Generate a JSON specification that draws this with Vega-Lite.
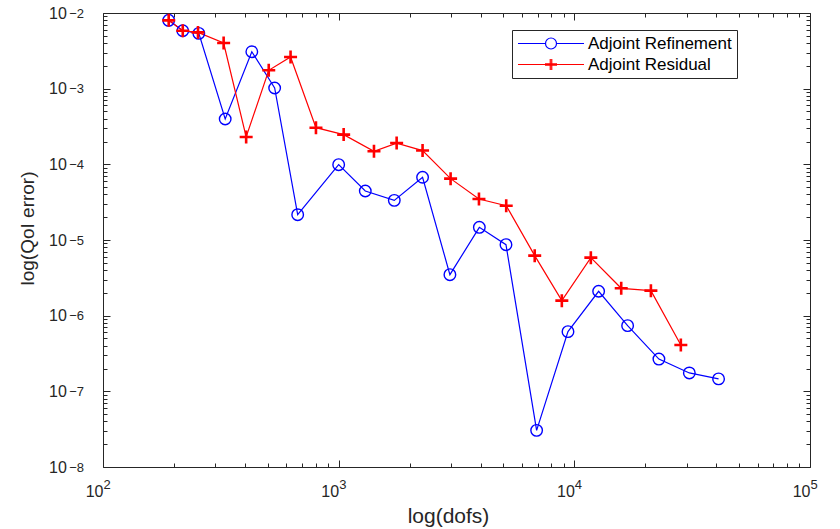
{
  "$schema": "https://vega.github.io/schema/vega-lite/v6.json",
  "width": 707,
  "height": 454,
  "autosize": "none",
  "padding": {"left": 103, "top": 13, "right": 30, "bottom": 62},
  "background": "white",
  "config": {
    "font": "Liberation Sans",
    "view": {"stroke": "#262626", "strokeWidth": 1},
    "axis": {"grid": false, "domain": false, "ticks": false, "gridColor": "#262626", "gridOpacity": 1, "gridWidth": 1, "labelColor": "#262626", "titleColor": "#262626", "labelFont": "Liberation Sans", "titleFont": "Liberation Sans", "titleFontWeight": "normal", "labelFlush": false, "labelOverlap": false, "labelBound": false}
  },
  "data": {"values": [
    {"series": "Adjoint Refinement", "dofs": 190, "err": 0.0080},
    {"series": "Adjoint Refinement", "dofs": 218, "err": 0.00583},
    {"series": "Adjoint Refinement", "dofs": 255, "err": 0.00538},
    {"series": "Adjoint Refinement", "dofs": 330, "err": 0.000397},
    {"series": "Adjoint Refinement", "dofs": 428, "err": 0.00308},
    {"series": "Adjoint Refinement", "dofs": 535, "err": 0.00102},
    {"series": "Adjoint Refinement", "dofs": 670, "err": 0.0000216},
    {"series": "Adjoint Refinement", "dofs": 1000, "err": 0.000099},
    {"series": "Adjoint Refinement", "dofs": 1297, "err": 0.0000444},
    {"series": "Adjoint Refinement", "dofs": 1722, "err": 0.0000334},
    {"series": "Adjoint Refinement", "dofs": 2270, "err": 0.0000674},
    {"series": "Adjoint Refinement", "dofs": 2965, "err": 0.00000348},
    {"series": "Adjoint Refinement", "dofs": 3953, "err": 0.0000147},
    {"series": "Adjoint Refinement", "dofs": 5128, "err": 0.00000867},
    {"series": "Adjoint Refinement", "dofs": 6918, "err": 3.05e-8},
    {"series": "Adjoint Refinement", "dofs": 9398, "err": 6.15e-7},
    {"series": "Adjoint Refinement", "dofs": 12680, "err": 0.0000021},
    {"series": "Adjoint Refinement", "dofs": 16830, "err": 7.38e-7},
    {"series": "Adjoint Refinement", "dofs": 22850, "err": 2.67e-7},
    {"series": "Adjoint Refinement", "dofs": 30760, "err": 1.75e-7},
    {"series": "Adjoint Refinement", "dofs": 40930, "err": 1.46e-7},
    {"series": "Adjoint Residual", "dofs": 190, "err": 0.0080},
    {"series": "Adjoint Residual", "dofs": 218, "err": 0.00583},
    {"series": "Adjoint Residual", "dofs": 253, "err": 0.00554},
    {"series": "Adjoint Residual", "dofs": 325, "err": 0.00401},
    {"series": "Adjoint Residual", "dofs": 405, "err": 0.00023},
    {"series": "Adjoint Residual", "dofs": 505, "err": 0.00175},
    {"series": "Adjoint Residual", "dofs": 625, "err": 0.00262},
    {"series": "Adjoint Residual", "dofs": 801, "err": 0.000305},
    {"series": "Adjoint Residual", "dofs": 1050, "err": 0.000247},
    {"series": "Adjoint Residual", "dofs": 1412, "err": 0.000149},
    {"series": "Adjoint Residual", "dofs": 1762, "err": 0.000191},
    {"series": "Adjoint Residual", "dofs": 2270, "err": 0.000152},
    {"series": "Adjoint Residual", "dofs": 2985, "err": 0.0000647},
    {"series": "Adjoint Residual", "dofs": 3938, "err": 0.0000348},
    {"series": "Adjoint Residual", "dofs": 5140, "err": 0.0000284},
    {"series": "Adjoint Residual", "dofs": 6790, "err": 0.00000621},
    {"series": "Adjoint Residual", "dofs": 8850, "err": 0.00000158},
    {"series": "Adjoint Residual", "dofs": 11750, "err": 0.00000584},
    {"series": "Adjoint Residual", "dofs": 15810, "err": 0.0000023},
    {"series": "Adjoint Residual", "dofs": 21130, "err": 0.00000214},
    {"series": "Adjoint Residual", "dofs": 28310, "err": 4.1e-7}
  ]},
  "layer": [
    {
      "transform": [{"filter": "datum.series === 'Adjoint Refinement'"}],
      "mark": {"type": "line", "strokeWidth": 1.2},
      "encoding": {
        "x": {"field": "dofs", "type": "quantitative", "scale": {"type": "log", "domain": [100, 100000], "nice": false},
          "axis": {"orient": "bottom", "values": [100, 1000, 10000, 100000], "labelExpr": "'10'",
            "grid": true, "gridDash": [7, 440, 7, 5000],
            "labelPadding": 24.4, "labelAlign": "right", "labelBaseline": "middle", "labelDx": -1, "labelFontSize": 16,
            "title": "log(dofs)", "titleFontSize": 21, "titleX": 345, "titleY": 49, "titleBaseline": "middle", "titleAlign": "center"}},
        "y": {"field": "err", "type": "quantitative", "scale": {"type": "log", "domain": [1e-8, 0.01], "nice": false},
          "axis": {"orient": "left", "values": [1e-8, 1e-7, 1e-6, 1e-5, 1e-4, 1e-3, 1e-2], "labelExpr": "'10'",
            "grid": true, "gridDash": [7, 693, 7, 5000],
            "labelPadding": 36.7, "labelAlign": "right", "labelBaseline": "middle", "labelDy": 4.5, "labelFontSize": 16,
            "title": "log(QoI error)", "titleFontSize": 19, "titleX": -76, "titleY": 215, "titleAngle": -90, "titleBaseline": "middle", "titleAlign": "center"}},
        "color": {"field": "series", "type": "nominal",
          "scale": {"domain": ["Adjoint Refinement", "Adjoint Residual"], "range": ["#0000ff", "#ff0000"]},
          "legend": {"title": null, "orient": "none", "legendX": 409, "legendY": 17,
            "padding": 5, "strokeColor": "#262626", "fillColor": "white", "cornerRadius": 0,
            "labelFontSize": 17, "labelFont": "Liberation Sans", "labelColor": "#000000", "labelLimit": 500,
            "symbolSize": 100, "symbolStrokeWidth": 1.2, "symbolOffset": 25.5, "labelOffset": 28.5, "rowPadding": 3,
            "encode": {
              "symbols": {"update": {
                "shape": {"signal": "datum.value === 'Adjoint Refinement' ? 'M-6.6,0L-1.1,0M1.1,0L6.6,0M-1.1,0A1.1,1.1 0 1,0 1.1,0A1.1,1.1 0 1,0 -1.1,0' : 'M-6.6,0L6.6,0M-1.2,-0.15L1.2,-0.15M-1.2,0.15L1.2,0.15M-0.15,-1.1L-0.15,1.1M0.15,-1.1L0.15,1.1'"},
                "fill": {"value": "transparent"},
                "stroke": {"signal": "datum.value === 'Adjoint Refinement' ? '#0000ff' : '#ff0000'"},
                "opacity": {"value": 1},
                "strokeWidth": {"value": 1.2}}}}}}
      }
    },
    {
      "transform": [{"filter": "datum.series === 'Adjoint Residual'"}],
      "mark": {"type": "line", "strokeWidth": 1.2},
      "encoding": {
        "x": {"field": "dofs", "type": "quantitative", "scale": {"type": "log", "domain": [100, 100000], "nice": false},
          "axis": {"orient": "bottom", "values": [200, 300, 400, 500, 600, 700, 800, 900, 2000, 3000, 4000, 5000, 6000, 7000, 8000, 9000, 20000, 30000, 40000, 50000, 60000, 70000, 80000, 90000],
            "labels": false, "grid": true, "gridDash": [4, 446, 4, 5000], "title": null}},
        "y": {"field": "err", "type": "quantitative", "scale": {"type": "log", "domain": [1e-8, 0.01], "nice": false},
          "axis": {"orient": "left", "values": [2e-8, 3e-8, 4e-8, 5e-8, 6e-8, 7e-8, 8e-8, 9e-8, 2e-7, 3e-7, 4e-7, 5e-7, 6e-7, 7e-7, 8e-7, 9e-7, 2e-6, 3e-6, 4e-6, 5e-6, 6e-6, 7e-6, 8e-6, 9e-6, 2e-5, 3e-5, 4e-5, 5e-5, 6e-5, 7e-5, 8e-5, 9e-5, 2e-4, 3e-4, 4e-4, 5e-4, 6e-4, 7e-4, 8e-4, 9e-4, 2e-3, 3e-3, 4e-3, 5e-3, 6e-3, 7e-3, 8e-3, 9e-3],
            "labels": false, "grid": true, "gridDash": [4, 699, 4, 5000], "title": null}},
        "color": {"field": "series", "type": "nominal", "scale": {"domain": ["Adjoint Refinement", "Adjoint Residual"], "range": ["#0000ff", "#ff0000"]}}
      }
    },
    {
      "transform": [{"filter": "datum.series === 'Adjoint Refinement'"}],
      "mark": {"type": "point", "shape": "circle", "size": 133, "filled": false, "strokeWidth": 1.4, "opacity": 1},
      "encoding": {
        "x": {"field": "dofs", "type": "quantitative", "scale": {"type": "log", "domain": [100, 100000], "nice": false},
          "axis": {"orient": "bottom", "values": [100, 1000, 10000, 100000],
            "labelExpr": "'' + round(log(datum.value)/LN10)", "labelAlign": "left", "labelBaseline": "middle", "labelDx": 2, "labelPadding": 17.5, "labelFontSize": 13, "title": null}},
        "y": {"field": "err", "type": "quantitative", "scale": {"type": "log", "domain": [1e-8, 0.01], "nice": false},
          "axis": {"orient": "left", "values": [1e-8, 1e-7, 1e-6, 1e-5, 1e-4, 1e-3, 1e-2],
            "labelExpr": "'\u2212' + abs(round(log(datum.value)/LN10))", "labelAlign": "right", "labelBaseline": "middle", "labelDy": -3, "labelPadding": 19.4, "labelFontSize": 13, "title": null}},
        "color": {"field": "series", "type": "nominal", "scale": {"domain": ["Adjoint Refinement", "Adjoint Residual"], "range": ["#0000ff", "#ff0000"]}}
      }
    },
    {
      "transform": [{"filter": "datum.series === 'Adjoint Residual'"}],
      "mark": {"type": "point", "shape": "M-1,0L1,0M0,-1L0,1", "size": 169, "filled": false, "strokeWidth": 2.6, "opacity": 1},
      "encoding": {
        "x": {"field": "dofs", "type": "quantitative", "scale": {"type": "log", "domain": [100, 100000], "nice": false}, "axis": null},
        "y": {"field": "err", "type": "quantitative", "scale": {"type": "log", "domain": [1e-8, 0.01], "nice": false}, "axis": null},
        "color": {"field": "series", "type": "nominal", "scale": {"domain": ["Adjoint Refinement", "Adjoint Residual"], "range": ["#0000ff", "#ff0000"]}}
      }
    }
  ],
  "resolve": {"axis": {"x": "independent", "y": "independent"}}
}
